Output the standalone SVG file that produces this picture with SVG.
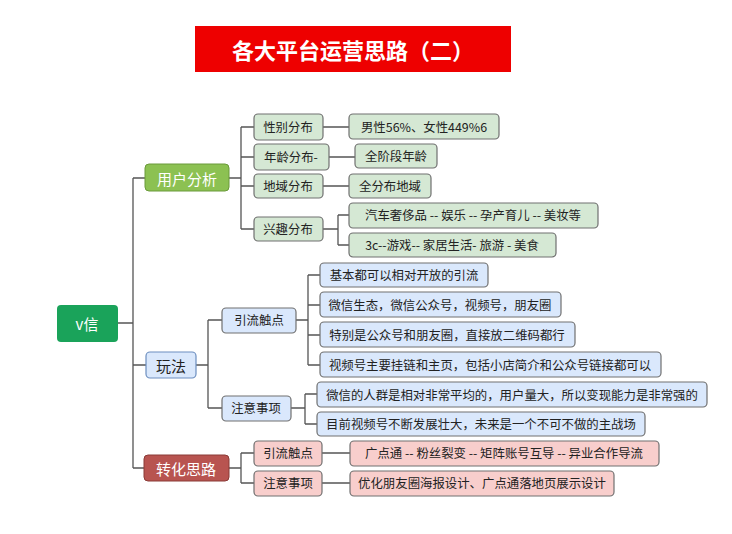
<svg xmlns="http://www.w3.org/2000/svg" width="732" height="534" viewBox="0 0 732 534">
<style>
text{font-family:"Noto Sans CJK SC","Liberation Sans",sans-serif;font-size:12.4px;fill:#222;dominant-baseline:central}
.c{text-anchor:middle}
.g{fill:#d5e8d4;stroke:#707070;stroke-width:1.2}
.b{fill:#dae8fc;stroke:#707070;stroke-width:1.2}
.r{fill:#f8cecc;stroke:#707070;stroke-width:1.2}
.w{fill:#fff;font-size:15px}
#conn path{fill:none;stroke:#555;stroke-width:1.3}
</style>
<rect width="732" height="534" fill="#fff"/>
<g id="title"><rect x="195" y="26" width="316" height="46" fill="#ee0000"/><text x="353" y="49" class="c" style="fill:#fff;font-size:22px;font-weight:bold">各大平台运营思路（二）</text></g>
<g id="conn">
<path d="M118 323H133M133 178V468M133 178H145M133 365H146M133 468H144"/>
<path d="M229 178H241M241 127V229M241 127H254M241 157H254M241 186H254M241 229H254"/>
<path d="M323 127H349M329 157H355M323 186H349M323 229H338M338 215V245M338 215H349M338 245H349"/>
<path d="M196 365H208M208 320V408M208 320H222M208 408H222"/>
<path d="M296 320H308M308 275V365M308 275H320M308 305H320M308 335H320M308 365H320"/>
<path d="M291 408H305M305 394V424M305 394H317M305 424H317"/>
<path d="M229 468H241M241 453V483M241 453H254M241 483H254M322 453H350M322 483H350"/>
</g>
<g id="root"><rect x="57" y="305" width="61" height="37" rx="4" fill="#1aa35a"/><text x="87" y="323" class="c w">v信</text></g>
<g id="yh"><rect x="145" y="164" width="84" height="27" rx="4" fill="#8cc152" stroke="#6a9a3a"/><text x="187" y="178" class="c w">用户分析</text></g>
<g id="xb"><rect x="254" y="114" width="69" height="26" rx="4" class="g"/><text x="288" y="127" class="c">性别分布</text></g>
<g id="nl"><rect x="254" y="144" width="75" height="26" rx="4" class="g"/><text x="291" y="157" class="c">年龄分布-</text></g>
<g id="dy"><rect x="254" y="174" width="69" height="24" rx="4" class="g"/><text x="288" y="186" class="c">地域分布</text></g>
<g id="xq"><rect x="254" y="217" width="69" height="24" rx="4" class="g"/><text x="288" y="229" class="c">兴趣分布</text></g>
<g id="l1"><rect x="349" y="114" width="150" height="25" rx="4" class="g"/><text x="424" y="127" class="c">男性56%、女性449%6</text></g>
<g id="l2"><rect x="355" y="144" width="82" height="24" rx="4" class="g"/><text x="396" y="156" class="c">全阶段年龄</text></g>
<g id="l3"><rect x="349" y="174" width="82" height="24" rx="4" class="g"/><text x="390" y="186" class="c">全分布地域</text></g>
<g id="l4"><rect x="349" y="203" width="249" height="25" rx="4" class="g"/><text x="473" y="215" class="c">汽车奢侈品 -- 娱乐 -- 孕产育儿 -- 美妆等</text></g>
<g id="l5"><rect x="349" y="233" width="207" height="24" rx="4" class="g"/><text x="452" y="245" class="c">3c--游戏-- 家居生活- 旅游 - 美食</text></g>
<g id="wf"><rect x="146" y="352" width="50" height="26" rx="4" fill="#dae8fc" stroke="#6c8ebf" stroke-width="1.2"/><text x="171" y="365" class="c" style="font-size:15px">玩法</text></g>
<g id="yl"><rect x="222" y="308" width="74" height="25" rx="4" class="b"/><text x="259" y="320" class="c">引流触点</text></g>
<g id="zy"><rect x="222" y="396" width="69" height="25" rx="4" class="b"/><text x="256" y="408" class="c">注意事项</text></g>
<g id="b1"><rect x="320" y="263" width="168" height="24" rx="4" class="b"/><text x="404" y="275" class="c">基本都可以相对开放的引流</text></g>
<g id="b2"><rect x="320" y="292" width="241" height="25" rx="4" class="b"/><text x="440" y="305" class="c">微信生态，微信公众号，视频号，朋友圈</text></g>
<g id="b3"><rect x="320" y="322" width="255" height="25" rx="4" class="b"/><text x="447" y="335" class="c">特别是公众号和朋友圈，直接放二维码都行</text></g>
<g id="b4"><rect x="320" y="352" width="341" height="25" rx="4" class="b"/><text x="490" y="365" class="c">视频号主要挂链和主页，包括小店简介和公众号链接都可以</text></g>
<g id="b5"><rect x="317" y="382" width="390" height="25" rx="4" class="b"/><text x="512" y="395" class="c">微信的人群是相对非常平均的，用户量大，所以变现能力是非常强的</text></g>
<g id="b6"><rect x="317" y="412" width="328" height="24" rx="4" class="b"/><text x="481" y="424" class="c">目前视频号不断发展壮大，未来是一个不可不做的主战场</text></g>
<g id="zh"><rect x="144" y="455" width="85" height="26" rx="4" fill="#b85450" stroke="#8a3a36"/><text x="186" y="468" class="c w">转化思路</text></g>
<g id="r1"><rect x="254" y="441" width="68" height="25" rx="4" class="r"/><text x="288" y="453" class="c">引流触点</text></g>
<g id="r2"><rect x="254" y="471" width="68" height="25" rx="4" class="r"/><text x="288" y="483" class="c">注意事项</text></g>
<g id="r3"><rect x="350" y="441" width="309" height="25" rx="4" class="r"/><text x="504" y="453" class="c">广点通 -- 粉丝裂变 -- 矩阵账号互导 -- 异业合作导流</text></g>
<g id="r4"><rect x="350" y="471" width="264" height="25" rx="4" class="r"/><text x="482" y="483" class="c">优化朋友圈海报设计、广点通落地页展示设计</text></g>
</svg>
